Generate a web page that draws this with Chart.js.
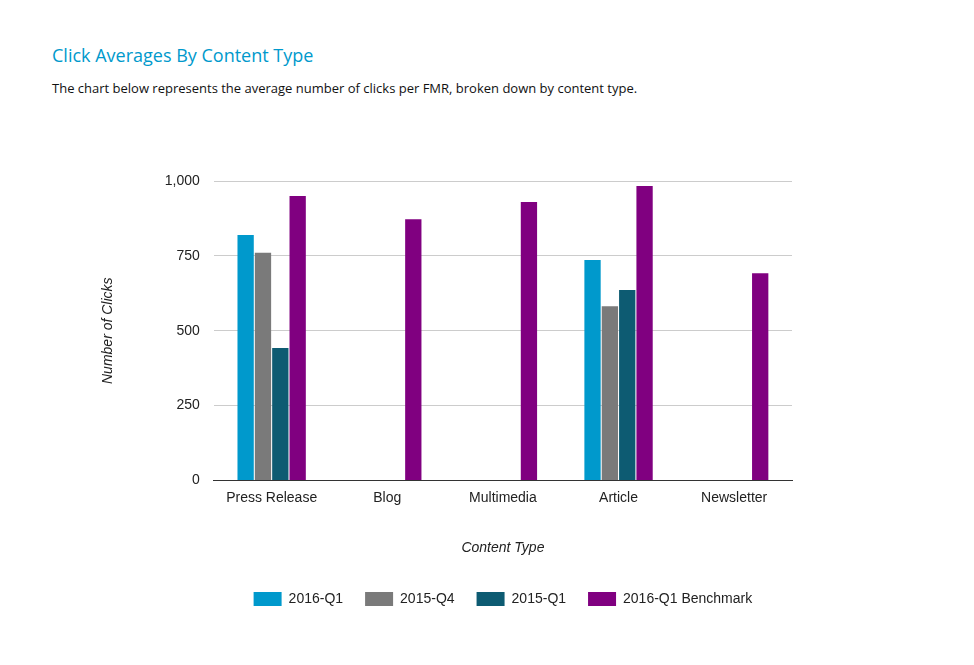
<!DOCTYPE html>
<html>
<head>
<meta charset="utf-8">
<script src="https://cdn.jsdelivr.net/npm/chart.js"></script>
<style>
  html, body { margin: 0; padding: 0; background: #fff; }
  body { width: 974px; height: 665px; position: relative; overflow: hidden; }
  h2 {
    position: absolute; left: 52px; top: 43px; margin: 0;
    font-family: "Open Sans", sans-serif; font-weight: normal;
    font-size: 18px; color: #0099cc;
  }
  p {
    position: absolute; left: 52px; top: 79px; margin: 0;
    font-family: "Open Sans", sans-serif; font-size: 13px; color: #111;
  }
  #wrap { position: absolute; left: 0; top: 0; width: 974px; height: 665px; }
</style>
</head>
<body>
<h2>Click Averages By Content Type</h2>
<p>The chart below represents the average number of clicks per FMR, broken down by content type.</p>
<div id="wrap"><canvas id="chart"></canvas></div>
<script>
// content types
const labels = ['Press Release', 'Blog', 'Multimedia', 'Article', 'Newsletter'];

// average clicks per series (null = no data)
const q1_2016 = [820, null, null, 736, null];
const q4_2015 = [760, null, null, 582, null];
const q1_2015 = [442, null, null, 636, null];
const benchmark = [950, 872, 930, 983, 692];

const yTicks = [0, 250, 500, 750, 1000];

var ctx = document.getElementById('chart').getContext('2d');

var data = {
    labels: labels,
    datasets: [
        { label: '2016-Q1', data: q1_2016, backgroundColor: '#0099cc' },
        { label: '2015-Q4', data: q4_2015, backgroundColor: '#7a7a7a' },
        { label: '2015-Q1', data: q1_2015, backgroundColor: '#0d5b72' },
        { label: '2016-Q1 Benchmark', data: benchmark, backgroundColor: '#800080' }
    ]
};

var font = { family: 'Liberation Sans, Arial, sans-serif', size: 14 };

// center the legend under the plot area instead of the whole canvas
var legendUnderPlot = {
    id: 'legendUnderPlot',
    afterLayout: function (chart) {
        var lg = chart.legend;
        if (!lg) return;
        lg.left = chart.chartArea.left;
        lg.right = chart.chartArea.right;
        lg.width = lg.right - lg.left;
    }
};

var options = {
    responsive: true,
    maintainAspectRatio: false,
    animation: false,
    layout: { padding: { left: 100, right: 182, top: 181, bottom: 49 } },
    datasets: { bar: { categoryPercentage: 0.6, barPercentage: 0.94 } },
    plugins: {
        legend: {
            position: 'bottom',
            labels: { boxWidth: 28, boxHeight: 14, padding: 22, color: '#222', font: font }
        },
        tooltip: { enabled: false }
    },
    scales: {
        x: {
            grid: { display: false },
            border: { color: '#333' },
            ticks: { color: '#222', font: font, padding: 1 },
            title: {
                display: true, text: 'Content Type', color: '#222',
                font: { family: font.family, size: 14, style: 'italic' },
                padding: { top: 33, bottom: 13 }
            }
        },
        y: {
            min: 0, max: 1000,
            afterBuildTicks: function (axis) {
                axis.ticks = yTicks.map(function (v) { return { value: v }; });
            },
            grid: { color: '#cccccc', drawTicks: false },
            border: { display: false },
            ticks: {
                color: '#222', font: font, padding: 14,
                callback: function (v) { return v.toLocaleString('en-US'); }
            },
            title: {
                display: true, text: 'Number of Clicks', color: '#222',
                font: { family: font.family, size: 14, style: 'italic' },
                padding: { top: 0, bottom: 34 }
            }
        }
    }
};

var config = { type: 'bar', data: data, options: options, plugins: [legendUnderPlot] };
var chart = new Chart(ctx, config);
</script>
</body>
</html>
